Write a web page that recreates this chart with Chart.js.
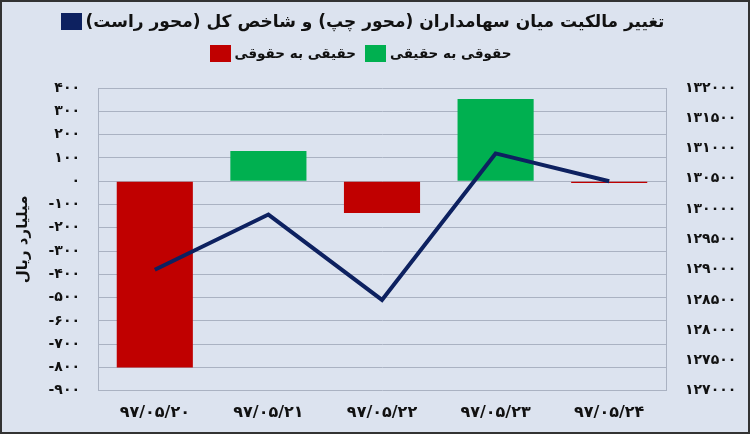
<!DOCTYPE html>
<html>
<head>
<meta charset="utf-8">
<script src="https://cdn.jsdelivr.net/npm/chart.js@4"></script>
<style>
    body { margin: 0; background: #dce3ef; }
    #wrap { position: relative; width: 750px; height: 434px; background: #dce3ef; overflow: hidden; }
    #chart { position: absolute; left: 0; top: 0; }
    #frame { position: absolute; left: 0; top: 0; width: 750px; height: 434px; box-sizing: border-box; border: 2px solid #333; pointer-events: none; }
    .row { position: absolute; left: 0; width: 750px; box-sizing: border-box; direction: rtl; text-align: center; font-family: "DejaVu Sans", sans-serif; font-weight: bold; color: #111; white-space: nowrap; }
    .row span { display: inline-block; vertical-align: middle; }
    .box { width: 21px; height: 17px; margin: 0 4px 0 5px; }
    #title { top: 10px; font-size: 17px; padding-right: 30px; }
    #legend { top: 44px; font-size: 13.5px; padding-right: 34px; }
</style>
</head>
<body>
<div id="wrap">
    <canvas id="chart" width="750" height="434"></canvas>
    <div class="row" id="title"><span>تغییر مالکیت میان سهامداران (محور چپ) و شاخص کل (محور راست)</span><span class="box" style="background:#0d2160"></span></div>
    <div class="row" id="legend"><span>حقوقی به حقیقی</span><span class="box" style="background:#00b050"></span><span style="width:4px"></span><span>حقیقی به حقوقی</span><span class="box" style="background:#c00000"></span></div>
    <div id="frame"></div>
</div>
<script>
// dates (x axis)
const dates = ['97/05/20', '97/05/21', '97/05/22', '97/05/23', '97/05/24'];
// ownership change, billion rial (left axis)
const legalToReal = [null, 130, null, 353, null];
const realToLegal = [-800, null, -137, null, -8];
// TEDPIX (right axis)
const indexValues = [129000, 129910, 128500, 130920, 130460];

const labelFont = {family: 'DejaVu Sans', size: 14, weight: 'bold'};

function fa(v) {
    let s = String(Math.abs(v)).replace(/[0-9]/g, d => '۰۱۲۳۴۵۶۷۸۹'[d]);
    return v < 0 ? '-' + s : s;
}

new Chart(document.getElementById('chart'), {
    type: 'bar',
    data: {
        labels: dates.map(d => d.replace(/[0-9]/g, c => '۰۱۲۳۴۵۶۷۸۹'[c])),
        datasets: [{
            type: 'line',
            label: 'شاخص کل',
            data: indexValues,
            yAxisID: 'y2',
            borderColor: '#0d2160',
            borderWidth: 4,
            borderJoinStyle: 'miter',
            pointRadius: 0,
            tension: 0,
            order: 0
        }, {
            label: 'حقوقی به حقیقی',
            data: legalToReal,
            backgroundColor: '#00b050',
            yAxisID: 'y',
            order: 1
        }, {
            label: 'حقیقی به حقوقی',
            data: realToLegal,
            backgroundColor: '#c00000',
            yAxisID: 'y',
            order: 1
        }]
    },
    options: {
        responsive: false,
        animation: false,
        skipNull: true,
        categoryPercentage: 0.67,
        barPercentage: 1,
        layout: {padding: {top: 88, left: 4, right: 4, bottom: 0}},
        plugins: {
            legend: {display: false},
            tooltip: {enabled: false}
        },
        scales: {
            x: {
                grid: {display: false, drawTicks: false},
                border: {display: false},
                ticks: {color: '#111', font: {family: 'DejaVu Sans', size: 16, weight: 'bold'}, padding: 12, maxRotation: 0}
            },
            y: {
                position: 'left',
                min: -900,
                max: 400,
                afterFit: s => { s.width = 94; },
                ticks: {stepSize: 100, color: '#111', font: labelFont, padding: 18, callback: v => fa(v)},
                grid: {color: '#aab2c2', drawTicks: false},
                border: {color: '#aab2c2'},
                title: {display: true, text: 'میلیارد ریال', color: '#111', font: {family: 'DejaVu Sans', size: 15, weight: 'bold'}, padding: {top: 10, bottom: 0}}
            },
            y2: {
                position: 'right',
                min: 127000,
                max: 132000,
                afterFit: s => { s.width = 80; },
                ticks: {stepSize: 500, color: '#111', font: labelFont, padding: 19, callback: v => fa(v)},
                grid: {display: false, drawTicks: false},
                border: {color: '#aab2c2'}
            }
        }
    }
});
</script>
</body>
</html>
